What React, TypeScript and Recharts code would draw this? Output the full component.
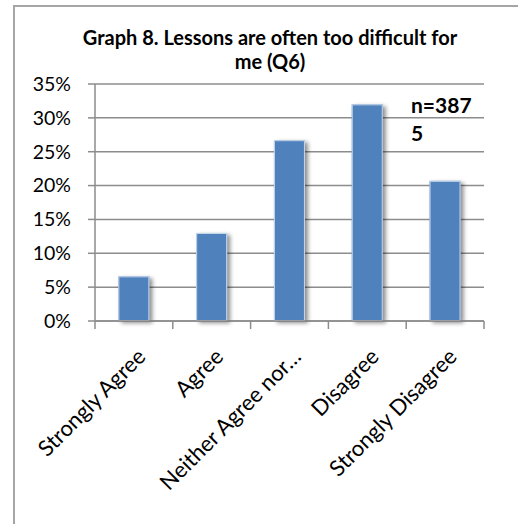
import React from "react";
import { BarChart, Bar, XAxis, YAxis, CartesianGrid } from "recharts";

// Survey responses to Q6 ("Lessons are often too difficult for me"), in percent
const categories = [
  "Strongly Agree",
  "Agree",
  "Neither Agree nor…",
  "Disagree",
  "Strongly Disagree",
];
const shares = [6.6, 13.0, 26.7, 32.0, 20.7];
const percentTicks = [0, 5, 10, 15, 20, 25, 30, 35];
const titleLines = ["Graph 8. Lessons are often too difficult for", "me (Q6)"];
const sampleNoteLines = ["n=387", "5"];

const data = categories.map((name, i) => ({ name, share: shares[i] }));

const FONT = "Lato, 'Open Sans', sans-serif";
const GRID = "#8c8c8c";
const BAR = "#4f81bd";

const ShadowBar = (props: any) => {
  const { x, y, width, height } = props;
  if (!height || height <= 0) return null;
  return (
    <g>
      <defs>
        <filter id="barShadow" x="-30%" y="-10%" width="180%" height="130%">
          <feDropShadow dx="3" dy="2" stdDeviation="2.2" floodColor="#000" floodOpacity="0.45" />
        </filter>
      </defs>
      <rect x={x} y={y} width={width} height={height} fill={BAR} filter="url(#barShadow)" />
      <rect
        x={x + 0.5}
        y={y + 0.5}
        width={width - 1}
        height={height - 1}
        fill="none"
        stroke="#c9d7ea"
        strokeWidth={1}
      />
    </g>
  );
};

const CategoryTick = (props: any) => {
  const { x, y, payload, index, visibleTicksCount } = props;
  const half = payload && payload.offset ? payload.offset : 0;
  const tx = x + 2;
  const ty = y + 26;
  const last = index === (visibleTicksCount ?? categories.length) - 1;
  return (
    <g>
      <line x1={x - half} y1={y} x2={x - half} y2={y + 8} stroke={GRID} strokeWidth={1.5} />
      {last && <line x1={x + half} y1={y} x2={x + half} y2={y + 8} stroke={GRID} strokeWidth={1.5} />}
      <text
        x={tx}
        y={ty}
        dy="0.71em"
        textAnchor="end"
        transform={`rotate(-45 ${tx} ${ty})`}
        fontFamily={FONT}
        fontSize={22}
        fill="#000"
      >
        {payload.value}
      </text>
    </g>
  );
};

export default function App() {
  return (
    <div
      style={{
        position: "absolute",
        left: 0,
        top: 0,
        width: 518,
        height: 524,
        background: "#fff",
        fontFamily: FONT,
      }}
    >
      <div
        style={{
          position: "absolute",
          left: 13,
          top: 5,
          right: 0,
          bottom: 0,
          borderLeft: "2px solid #a6a6a6",
          borderTop: "2px solid #a6a6a6",
        }}
      />
      <BarChart
        width={518}
        height={524}
        data={data}
        margin={{ top: 84, right: 34, bottom: 0, left: 0 }}
        barCategoryGap="30%"
        style={{ position: "absolute", left: 0, top: 0 }}
      >
        <CartesianGrid vertical={false} stroke={GRID} strokeWidth={1.5} />
        <YAxis
          type="number"
          domain={[0, 35]}
          ticks={percentTicks}
          width={95}
          tickSize={7}
          tickMargin={17}
          tickFormatter={(v: number) => `${v}%`}
          axisLine={{ stroke: GRID, strokeWidth: 1.5 }}
          tickLine={{ stroke: GRID, strokeWidth: 1.5 }}
          tick={{ fill: "#000", fontSize: 19.5, fontFamily: FONT }}
        />
        <XAxis
          dataKey="name"
          height={203}
          interval={0}
          tickSize={0}
          tickMargin={0}
          tickLine={false}
          axisLine={{ stroke: GRID, strokeWidth: 1.5 }}
          tick={<CategoryTick />}
        />
        <Bar dataKey="share" isAnimationActive={false} shape={<ShadowBar />} />
      </BarChart>
      <div
        style={{
          position: "absolute",
          left: 0,
          width: 540,
          top: 26,
          textAlign: "center",
          fontWeight: 700,
          fontSize: 20,
          lineHeight: "23.5px",
          color: "#000",
        }}
      >
        {titleLines.map((t) => (
          <div key={t}>{t}</div>
        ))}
      </div>
      <div
        style={{
          position: "absolute",
          left: 411,
          top: 91,
          fontWeight: 700,
          fontSize: 21,
          lineHeight: "28px",
          color: "#000",
        }}
      >
        {sampleNoteLines.map((t) => (
          <div key={t}>{t}</div>
        ))}
      </div>
    </div>
  );
}
